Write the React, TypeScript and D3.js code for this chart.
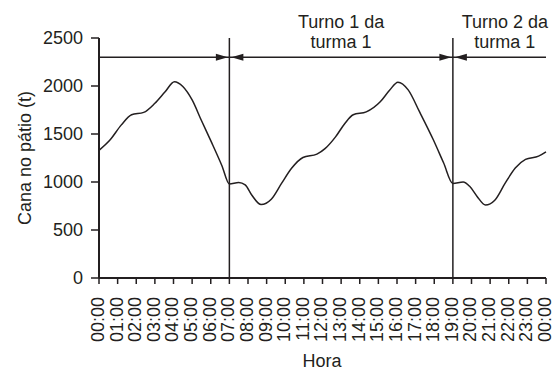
import React from 'react';
import * as d3 from 'd3';

// curve: hour of day -> cane in the yard (t)
const hours = [
  0, 0.6, 1.2, 1.75, 2.4, 3.0, 3.55, 4.05, 4.5, 5.0, 5.5, 6.05, 6.6, 7.0,
  7.5, 7.85, 8.2, 8.7, 9.25, 9.8, 10.35, 10.95, 11.7, 12.15, 12.7, 13.2, 13.65,
  14.35, 15.1, 15.6, 16.05, 16.6, 17.2, 17.95, 18.5, 19.0,
  19.55, 19.9, 20.3, 20.75, 21.25, 21.8, 22.35, 22.9, 23.6, 24,
];
const values = [
  1330, 1440, 1595, 1700, 1725, 1820, 1940, 2045, 1995, 1855, 1640, 1410, 1170, 980,
  995, 970, 865, 765, 820, 985, 1145, 1255, 1290, 1350, 1470, 1610, 1700,
  1730, 1835, 1955, 2040, 1960, 1735, 1440, 1200, 985,
  1000, 955, 850, 760, 810, 985, 1145, 1235, 1270, 1315,
];
const yTicks = [0, 500, 1000, 1500, 2000, 2500];
const hourTicks = d3.range(0, 25);
const hourLabels = hourTicks.map(h => `${String(h % 24).padStart(2, '0')}:00`);
const shiftBounds = [0, 7, 19, 24];
const shiftLabels = [
  { from: 7, to: 19, lines: ['Turno 1 da', 'turma 1'] },
  { from: 19, to: 24, lines: ['Turno 2 da', 'turma 1'] },
];
const arrowLevel = 2300;

const W = 559;
const H = 372;
const ink = '#231f20';
const font = '"Liberation Sans", Arial, sans-serif';

export default function App() {
  const x = d3.scaleLinear().domain([0, 24]).range([99, 546]);
  const y = d3.scaleLinear().domain([0, 2500]).range([278, 38]);

  const line = d3
    .line<number>()
    .x((_, i) => x(hours[i]))
    .y(d => y(d))
    .curve(d3.curveMonotoneX);

  const ay = y(arrowLevel);
  const head = (tipX: number, dir: number) =>
    `M${tipX},${ay} L${tipX - dir * 12},${ay - 3.5} L${tipX - dir * 12},${ay + 3.5} Z`;

  return (
    <svg
      width={W}
      height={H}
      style={{ position: 'absolute', left: 0, top: 0, background: '#fff' }}
      fontFamily={font}
      fontSize={18}
      fill={ink}
    >
      {/* shift dividers */}
      {shiftBounds.slice(1, -1).map(h => (
        <line key={h} x1={x(h)} x2={x(h)} y1={y(2500)} y2={y(0)} stroke={ink} strokeWidth={1.5} />
      ))}

      {/* arrows */}
      <line x1={x(0)} x2={x(24)} y1={ay} y2={ay} stroke={ink} strokeWidth={1.5} />
      <path d={head(x(7) - 1.5, 1)} fill={ink} />
      <path d={head(x(7) + 2, -1)} fill={ink} />
      <path d={head(x(19) - 1.5, 1)} fill={ink} />
      <path d={head(x(19) + 2, -1)} fill={ink} />

      {/* shift labels */}
      {shiftLabels.map((s, i) => {
        const cx = i === 0 ? (x(s.from) + x(s.to)) / 2 : x(s.from) + 52;
        return (
          <text key={i} x={cx} textAnchor="middle">
            <tspan x={cx} y={28}>{s.lines[0]}</tspan>
            <tspan x={cx} y={48}>{s.lines[1]}</tspan>
          </text>
        );
      })}

      {/* curve */}
      <path d={line(values) || ''} fill="none" stroke={ink} strokeWidth={1.5} />

      {/* y axis */}
      <line x1={x(0)} x2={x(0)} y1={y(2500)} y2={y(0)} stroke={ink} strokeWidth={2} />
      {yTicks.map(t => (
        <g key={t}>
          <line x1={x(0) - 8} x2={x(0)} y1={y(t)} y2={y(t)} stroke={ink} strokeWidth={1.5} />
          <text x={x(0) - 16} y={y(t)} dy="0.36em" textAnchor="end">{t}</text>
        </g>
      ))}

      {/* x axis */}
      <line x1={x(0)} x2={x(24)} y1={y(0)} y2={y(0)} stroke={ink} strokeWidth={2} />
      {hourTicks.map((h, i) => (
        <g key={h}>
          <line x1={x(h)} x2={x(h)} y1={y(0)} y2={y(0) + 6} stroke={ink} strokeWidth={1.5} />
          <text
            transform={`translate(${x(h) - 1.5},297) rotate(-90)`}
            dy="0.36em"
            textAnchor="end"
          >
            {hourLabels[i]}
          </text>
        </g>
      ))}

      {/* axis titles */}
      <text transform={`translate(31,158) rotate(-90)`} textAnchor="middle">Cana no pátio (t)</text>
      <text x={322} y={367} textAnchor="middle">Hora</text>
    </svg>
  );
}
